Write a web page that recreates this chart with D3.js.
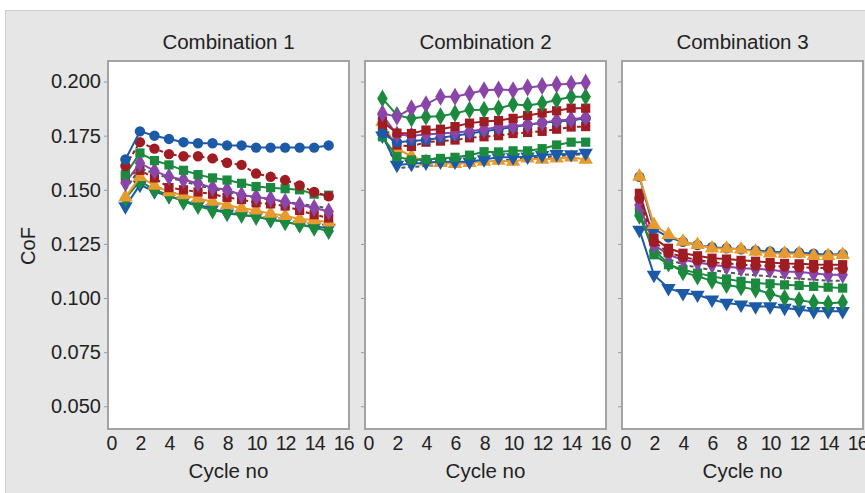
<!DOCTYPE html>
<html>
<head>
<meta charset="utf-8">
<style>
  body { margin: 0; background: #fff; }
  .chart svg { display: block; font-family: "Liberation Sans", Arial, sans-serif; }
</style>
</head>
<body>
<div class="chart"></div>
<script src="https://d3js.org/d3.v7.min.js"></script>
<script>
  // ---- data ----
  const titles = ['Combination 1', 'Combination 2', 'Combination 3'];
  const cycles = [1, 2, 3, 4, 5, 6, 7, 8, 9, 10, 11, 12, 13, 14, 15];
  const xTicks = [0, 2, 4, 6, 8, 10, 12, 14, 16];
  const yTicks = [0.050, 0.075, 0.100, 0.125, 0.150, 0.175, 0.200];

  // combination 1
  const c1BlueCircle = [0.164, 0.177, 0.175, 0.1735, 0.172, 0.1715, 0.1715, 0.1705, 0.1705, 0.1695, 0.1695, 0.1695, 0.1695, 0.1695, 0.1705];
  const c1RedDash = [0.161, 0.172, 0.169, 0.1665, 0.1655, 0.1655, 0.1645, 0.1625, 0.1615, 0.1575, 0.156, 0.1545, 0.152, 0.149, 0.147];
  const c1GreenSquare = [0.157, 0.167, 0.1635, 0.1615, 0.159, 0.157, 0.1555, 0.1545, 0.153, 0.1515, 0.151, 0.1505, 0.150, 0.148, 0.1475];
  const c1Gray = [0.150, 0.160, 0.1575, 0.1555, 0.154, 0.152, 0.1505, 0.149, 0.1475, 0.1465, 0.1455, 0.1445, 0.1435, 0.1425, 0.1415];
  const c1Purple = [0.1532, 0.1624, 0.1587, 0.156, 0.1546, 0.153, 0.1509, 0.150, 0.1476, 0.1467, 0.1458, 0.1445, 0.143, 0.1417, 0.140];
  const c1RedSquare = [0.156, 0.159, 0.1555, 0.151, 0.150, 0.149, 0.148, 0.1465, 0.1455, 0.144, 0.1435, 0.1425, 0.1405, 0.1385, 0.137];
  const c1Orange = [0.1465, 0.156, 0.152, 0.149, 0.1475, 0.146, 0.1445, 0.143, 0.1415, 0.1405, 0.139, 0.138, 0.1365, 0.136, 0.135];
  const c1GreenDiamond = [0.146, 0.154, 0.150, 0.1475, 0.1445, 0.1425, 0.1405, 0.1395, 0.1385, 0.1375, 0.1365, 0.135, 0.134, 0.1325, 0.131];
  const c1BlueTri = [0.1423, 0.1523, 0.1492, 0.147, 0.145, 0.143, 0.1415, 0.139, 0.1384, 0.1377, 0.136, 0.1353, 0.1338, 0.133, 0.1324];

  // combination 2
  const c2Gray = [0.176, 0.160, 0.1605, 0.161, 0.1615, 0.162, 0.162, 0.163, 0.1635, 0.164, 0.1645, 0.165, 0.1655, 0.166, 0.1665];
  const c2Orange = [0.1815, 0.169, 0.1655, 0.163, 0.1625, 0.162, 0.1625, 0.163, 0.1635, 0.163, 0.1645, 0.164, 0.1645, 0.165, 0.164];
  const c2BlueTri = [0.175, 0.1615, 0.162, 0.1625, 0.163, 0.163, 0.163, 0.164, 0.165, 0.165, 0.1653, 0.166, 0.1665, 0.1664, 0.167];
  const c2GreenSquare = [0.1745, 0.1653, 0.1638, 0.164, 0.1645, 0.165, 0.166, 0.1676, 0.1675, 0.168, 0.168, 0.169, 0.1707, 0.172, 0.172];
  const c2RedLower = [0.178, 0.1707, 0.170, 0.172, 0.1725, 0.173, 0.174, 0.1745, 0.175, 0.176, 0.1765, 0.177, 0.178, 0.179, 0.1792];
  const c2BlueCircle = [0.176, 0.172, 0.1725, 0.173, 0.174, 0.175, 0.176, 0.177, 0.178, 0.179, 0.180, 0.181, 0.1815, 0.182, 0.183];
  const c2PurpleLower = [0.1845, 0.1755, 0.175, 0.1755, 0.176, 0.1765, 0.177, 0.178, 0.179, 0.1795, 0.180, 0.181, 0.182, 0.1825, 0.1835];
  const c2RedUpper = [0.1815, 0.1762, 0.176, 0.1776, 0.178, 0.1792, 0.1808, 0.1815, 0.182, 0.183, 0.1843, 0.1855, 0.1865, 0.1877, 0.1877];
  const c2GreenDiamond = [0.1922, 0.1845, 0.183, 0.1838, 0.184, 0.1853, 0.1869, 0.187, 0.1876, 0.1895, 0.189, 0.190, 0.1915, 0.193, 0.193];
  const c2Purple = [0.1853, 0.1838, 0.1876, 0.1895, 0.193, 0.193, 0.1945, 0.196, 0.1963, 0.196, 0.1973, 0.198, 0.1987, 0.199, 0.1995];

  // combination 3
  const c3Gray = [0.142, 0.123, 0.118, 0.1155, 0.114, 0.113, 0.112, 0.111, 0.1105, 0.110, 0.1095, 0.109, 0.1085, 0.108, 0.108];
  const c3BlueTri = [0.1315, 0.1107, 0.1046, 0.1023, 0.1015, 0.0992, 0.0977, 0.0969, 0.0961, 0.0961, 0.0954, 0.0946, 0.0939, 0.0939, 0.0939];
  const c3GreenDiamond = [0.138, 0.122, 0.116, 0.112, 0.110, 0.108, 0.106, 0.105, 0.104, 0.102, 0.100, 0.099, 0.098, 0.0975, 0.098];
  const c3GreenSquare = [0.140, 0.120, 0.1154, 0.1131, 0.1115, 0.110, 0.1088, 0.1077, 0.1069, 0.1066, 0.1061, 0.1058, 0.1054, 0.105, 0.1046];
  const c3Purple = [0.143, 0.1246, 0.120, 0.1177, 0.1164, 0.1154, 0.1146, 0.1138, 0.1135, 0.1131, 0.1123, 0.112, 0.1115, 0.1107, 0.1107];
  const c3RedDash = [0.146, 0.126, 0.121, 0.119, 0.1175, 0.1165, 0.116, 0.1155, 0.115, 0.1148, 0.1145, 0.1142, 0.114, 0.1138, 0.1135];
  const c3RedSquare = [0.1484, 0.1277, 0.123, 0.1207, 0.1195, 0.1184, 0.118, 0.1174, 0.117, 0.1164, 0.116, 0.1158, 0.1155, 0.1154, 0.1154];
  const c3BlueCircle = [0.156, 0.132, 0.128, 0.126, 0.1245, 0.1235, 0.123, 0.1225, 0.122, 0.1215, 0.121, 0.121, 0.1205, 0.120, 0.1203];
  const c3Orange = [0.1561, 0.1338, 0.1292, 0.1261, 0.1246, 0.123, 0.1228, 0.1225, 0.1215, 0.1207, 0.1205, 0.1205, 0.1195, 0.1195, 0.120];

  // ---- styles ----
  const blue = '#1c5aa8', red = '#9f1d22', green = '#1c8a3e', purple = '#8a45a8', orange = '#e79a2e', gray = '#555555';

  const panels = [
    [
      { v: c1BlueTri, c: blue, s: 'tdown' },
      { v: c1GreenDiamond, c: green, s: 'diamond' },
      { v: c1Orange, c: orange, s: 'tup' },
      { v: c1RedSquare, c: red, s: 'square', dash: '4,3' },
      { v: c1Gray, c: gray, s: null, dash: '4,3' },
      { v: c1Purple, c: purple, s: 'diamond' },
      { v: c1GreenSquare, c: green, s: 'square' },
      { v: c1RedDash, c: red, s: 'circle', dash: '4,3' },
      { v: c1BlueCircle, c: blue, s: 'circle' }
    ],
    [
      { v: c2Gray, c: gray, s: null, dash: '4,3' },
      { v: c2Orange, c: orange, s: 'tup' },
      { v: c2BlueTri, c: blue, s: 'tdown' },
      { v: c2GreenSquare, c: green, s: 'square' },
      { v: c2RedLower, c: red, s: 'square', dash: '4,3' },
      { v: c2BlueCircle, c: blue, s: 'circle' },
      { v: c2PurpleLower, c: purple, s: 'diamond' },
      { v: c2RedUpper, c: red, s: 'square' },
      { v: c2GreenDiamond, c: green, s: 'diamond' },
      { v: c2Purple, c: purple, s: 'diamond' }
    ],
    [
      { v: c3Gray, c: gray, s: null, dash: '4,3' },
      { v: c3BlueTri, c: blue, s: 'tdown' },
      { v: c3GreenDiamond, c: green, s: 'diamond' },
      { v: c3GreenSquare, c: green, s: 'square' },
      { v: c3Purple, c: purple, s: 'diamond' },
      { v: c3RedDash, c: red, s: 'circle', dash: '4,3' },
      { v: c3RedSquare, c: red, s: 'square' },
      { v: c3BlueCircle, c: blue, s: 'circle' },
      { v: c3Orange, c: orange, s: 'tup' }
    ]
  ];

  const W = 865, H = 493;
  const panelLeft = [108, 365, 622], panelW = 241, plotTop = 61, plotBottom = 429;

  const svg = d3.select('.chart').append('svg')
    .attr('width', W).attr('height', H);

  svg.append('rect')
    .attr('x', 5.5).attr('y', 10.5).attr('width', W).attr('height', H)
    .attr('fill', '#e6e6e6').attr('stroke', '#cdcdcd');

  const yScale = d3.scaleLinear().domain([0.0395, 0.2095]).range([plotBottom, plotTop]);

  const symbolOf = {
    circle: d3.symbol().type(d3.symbolCircle).size(85),
    square: d3.symbol().type(d3.symbolSquare).size(85),
    diamond: d3.symbol().type(d3.symbolDiamond).size(95),
    tup: d3.symbol().type(d3.symbolTriangle).size(90),
    tdown: d3.symbol().type(d3.symbolTriangle).size(90)
  };

  panels.forEach((series, p) => {
    const x0 = panelLeft[p];
    const xScale = d3.scaleLinear().domain([-0.2, 16.4]).range([x0, x0 + panelW]);
    const g = svg.append('g');

    g.append('rect')
      .attr('x', x0).attr('y', plotTop).attr('width', panelW).attr('height', plotBottom - plotTop)
      .attr('fill', '#fff');

    // y axis (labels only on the first panel)
    const yAxis = d3.axisLeft(yScale).tickValues(yTicks).tickSize(4).tickPadding(3)
      .tickFormat(p === 0 ? d3.format('.3f') : '');
    const ya = g.append('g').attr('transform', `translate(${x0},0)`).call(yAxis);
    ya.select('.domain').remove();
    ya.selectAll('.tick line').attr('stroke', '#9a9a9a');
    ya.selectAll('.tick text').attr('font-size', 20).attr('fill', '#222')
      .attr('font-family', '"Liberation Sans", Arial, sans-serif');

    // x axis
    const xAxis = d3.axisBottom(xScale).tickValues(xTicks).tickSize(0).tickPadding(7);
    const xa = g.append('g').attr('transform', `translate(0,${plotBottom})`).call(xAxis);
    xa.select('.domain').remove();
    xa.selectAll('.tick text').attr('font-size', 19.5).attr('fill', '#222')
      .attr('font-family', '"Liberation Sans", Arial, sans-serif')
      .attr('letter-spacing', -1);

    const line = d3.line().x((d, i) => xScale(cycles[i])).y(d => yScale(d));

    series.forEach(s => {
      g.append('path')
        .attr('d', line(s.v))
        .attr('fill', 'none')
        .attr('stroke', s.c)
        .attr('stroke-width', 2)
        .attr('stroke-dasharray', s.dash || null);
      if (s.s) {
        g.selectAll(null).data(s.v).join('path')
          .attr('d', symbolOf[s.s])
          .attr('transform', (d, i) => `translate(${xScale(cycles[i])},${yScale(d)})` + (s.s === 'tdown' ? ' rotate(180)' : ''))
          .attr('fill', s.c);
      }
    });

    g.append('rect')
      .attr('x', x0).attr('y', plotTop).attr('width', panelW).attr('height', plotBottom - plotTop)
      .attr('fill', 'none').attr('stroke', '#a3a3a3').attr('stroke-width', 2);

    g.append('text')
      .attr('x', x0 + panelW / 2).attr('y', 49)
      .attr('text-anchor', 'middle').attr('font-size', 20.5).attr('fill', '#222')
      .text(titles[p]);

    g.append('text')
      .attr('x', x0 + panelW / 2).attr('y', 478)
      .attr('text-anchor', 'middle').attr('font-size', 20.5).attr('fill', '#222')
      .text('Cycle no');
  });

  svg.append('text')
    .attr('transform', 'translate(35,246) rotate(-90)')
    .attr('text-anchor', 'middle').attr('font-size', 20).attr('fill', '#222')
    .text('CoF');
</script>
</body>
</html>
